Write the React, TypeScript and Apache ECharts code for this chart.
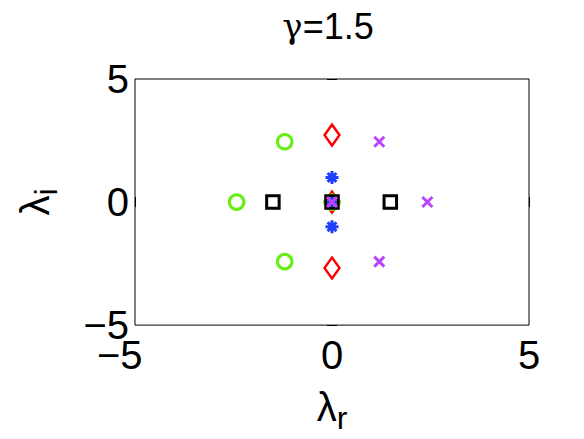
import React, { useEffect, useRef } from "react";
import * as echarts from "echarts";

const titleGamma = "γ";
const titleValue = "=1.5";
const axisMin = -5;
const axisMax = 5;
const axisInterval = 5;

// eigenvalue sets [lambda_r, lambda_i]
const bluePts = [[0, 1.0], [0, -1.0], [0, 0]];
const redPts = [[0, 2.72], [0, -2.68], [0, 0]];
const greenPts = [[-1.2, 2.45], [-2.42, 0], [-1.2, -2.42], [0, 0]];
const blackPts = [[-1.5, 0], [1.48, 0], [0, 0]];
const purplePts = [[1.2, 2.45], [2.42, 0], [1.2, -2.42], [0, 0]];

const FONT = "'Liberation Sans', Arial, Helvetica, sans-serif";
const SERIF = "'DejaVu Serif', 'Liberation Serif', serif";

const fmt = (v: number) => (v < 0 ? "\u2212" + Math.abs(v) : String(v));

export default function App() {
  const ref = useRef<HTMLDivElement>(null);
  useEffect(() => {
    if (!ref.current) return;
    const chart = echarts.init(ref.current, null, { renderer: "svg" });
    const axisCommon = {
      type: "value" as const,
      min: axisMin,
      max: axisMax,
      interval: axisInterval,
      splitLine: { show: false },
      axisLine: { show: false },
      axisTick: { show: true, inside: true, length: 5, lineStyle: { color: "#000", width: 1 } },
    };
    chart.setOption({
      animation: false,
      backgroundColor: "#fff",
      title: {
        text: "{g|" + titleGamma + "}{t|" + titleValue + "}",
        left: 328,
        textAlign: "center",
        top: 6,
        padding: 0,
        textStyle: {
          fontWeight: "normal",
          fontFamily: FONT,
          rich: {
            g: { fontFamily: SERIF, fontWeight: "normal", fontSize: 34, color: "#000", lineHeight: 40 },
            t: { fontFamily: FONT, fontWeight: "normal", fontSize: 36, color: "#000", lineHeight: 40 },
          },
        },
      },
      grid: {
        left: 128,
        right: 55,
        top: 79,
        bottom: 108,
        show: true,
        borderColor: "#000",
        borderWidth: 1,
        backgroundColor: "#fff",
      },
      xAxis: [
        {
          ...axisCommon,
          position: "bottom",
          axisLabel: {
            fontFamily: FONT,
            fontSize: 40,
            color: "#000",
            margin: 10,
            formatter: (v: number) => (v < 0 ? "{n|" + fmt(v) + "}" : fmt(v)),
            rich: {
              n: { fontFamily: FONT, fontSize: 40, color: "#000", width: 76, align: "left" },
            },
          },
          name: "{a|λ}{b|r}",
          nameLocation: "middle",
          nameGap: 58,
          nameTextStyle: {
            rich: {
              a: { fontFamily: FONT, fontSize: 40, color: "#000", verticalAlign: "top", lineHeight: 40 },
              b: { fontFamily: FONT, fontSize: 32, color: "#000", padding: [22, 0, 0, 0], lineHeight: 40 },
            },
          },
        },
        { ...axisCommon, position: "top", axisLabel: { show: false } },
      ],
      yAxis: [
        {
          ...axisCommon,
          position: "left",
          axisLabel: {
            fontFamily: FONT,
            fontSize: 40,
            color: "#000",
            margin: 6,
            formatter: fmt,
          },
          name: "{a|λ}{b|i}",
          nameLocation: "middle",
          nameGap: 80,
          nameTextStyle: {
            rich: {
              a: { fontFamily: FONT, fontSize: 40, color: "#000", lineHeight: 40 },
              b: { fontFamily: FONT, fontSize: 32, color: "#000", padding: [22, 0, 0, 0], lineHeight: 40 },
            },
          },
        },
        { ...axisCommon, position: "right", axisLabel: { show: false } },
      ],
      series: [
        {
          type: "scatter",
          data: bluePts,
          symbol: "path://M5,0L5,10M0,5L10,5M1.6,1.6L8.4,8.4M8.4,1.6L1.6,8.4",
          symbolSize: 13,
          itemStyle: { color: "transparent", borderColor: "#1f3fff", borderWidth: 3, opacity: 1 },
          z: 2,
        },
        {
          type: "scatter",
          data: redPts,
          symbol: "path://M5,0L10,7L5,14L0,7Z",
          symbolSize: [15, 21],
          itemStyle: { color: "transparent", borderColor: "#ff0000", borderWidth: 2.5, opacity: 1 },
          z: 3,
        },
        {
          type: "scatter",
          data: greenPts,
          symbol: "circle",
          symbolSize: 14.5,
          itemStyle: { color: "transparent", borderColor: "#66ee11", borderWidth: 3, opacity: 1 },
          z: 4,
        },
        {
          type: "scatter",
          data: blackPts,
          symbol: "rect",
          symbolSize: 12.5,
          itemStyle: { color: "transparent", borderColor: "#000000", borderWidth: 3, opacity: 1 },
          z: 5,
        },
        {
          type: "scatter",
          data: purplePts,
          symbol: "path://M0,0L10,10M10,0L0,10",
          symbolSize: 10,
          itemStyle: { color: "transparent", borderColor: "#bb44ff", borderWidth: 3, opacity: 1 },
          z: 6,
        },
      ],
    });
    return () => chart.dispose();
  }, []);
  return <div ref={ref} style={{ width: 584, height: 439, position: "absolute", left: 0, top: 0 }} />;
}
